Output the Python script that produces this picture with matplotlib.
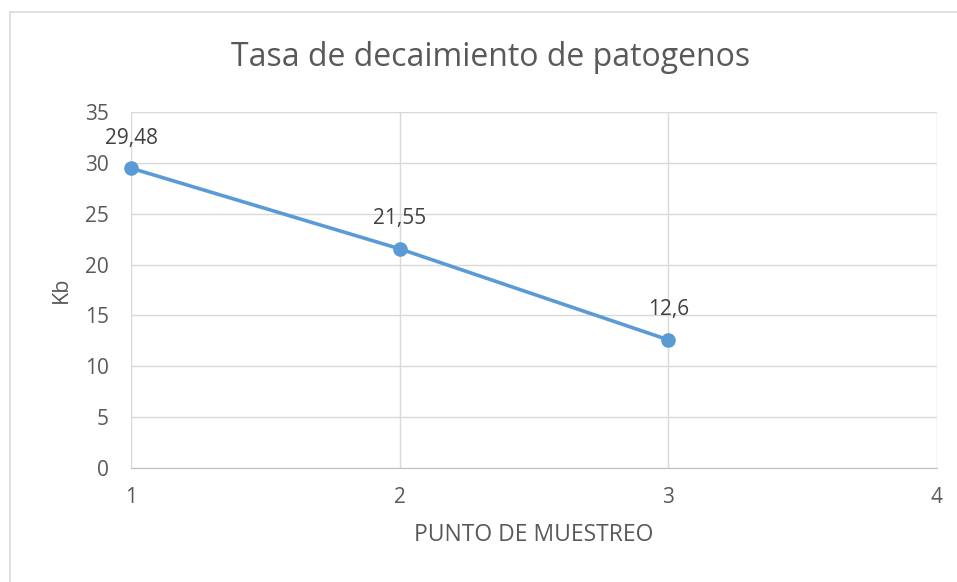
import matplotlib
matplotlib.use("Agg")
import matplotlib.pyplot as plt
from matplotlib.lines import Line2D

x_vals = [1, 2, 3]
kb_vals = [29.48, 21.55, 12.6]
point_labels = ["29,48", "21,55", "12,6"]
x_ticks = [1, 2, 3, 4]
y_ticks = [0, 5, 10, 15, 20, 25, 30, 35]

plt.rcParams['font.family'] = ['Open Sans', 'DejaVu Sans']

W, H = 957, 582
fig = plt.figure(figsize=(W/100, H/100), dpi=100)
# chart border (top and left visible)
fig.lines.append(Line2D([9.5/W, 1.0], [1-11.5/H, 1-11.5/H], transform=fig.transFigure,
                        color='#D9D9D9', linewidth=1.2))
fig.lines.append(Line2D([9.5/W, 9.5/W], [0.0, 1-11.5/H], transform=fig.transFigure,
                        color='#D9D9D9', linewidth=1.2))

left, right, top, bottom = 131, 937, 112, 468
ax = fig.add_axes([left/W, 1-bottom/H, (right-left)/W, (bottom-top)/H])

ax.plot(x_vals, kb_vals, color='#5B9BD5', linewidth=2.6, marker='o', markersize=9.5,
        zorder=3, clip_on=False)
for xv, yv, lab in zip(x_vals, kb_vals, point_labels):
    ax.annotate(lab, (xv, yv), xytext=(0, 14), textcoords='offset points',
                ha='center', va='bottom', fontsize=15, color='#404040')

ax.set_xlim(1, 4)
ax.set_ylim(0, 35)
ax.set_xticks(x_ticks)
ax.set_yticks(y_ticks)
ax.grid(True, color='#D9D9D9', linewidth=1)
ax.set_axisbelow(True)
for s in ['top', 'right', 'left']:
    ax.spines[s].set_visible(False)
ax.spines['bottom'].set_color('#BFBFBF')
ax.tick_params(axis='y', length=0, labelsize=15, labelcolor='#595959', pad=16)
ax.tick_params(axis='x', length=0, labelsize=15, labelcolor='#595959', pad=14)

fig.text(534/W, 1-535/H, 'PUNTO DE MUESTREO', ha='center', va='center',
         fontsize=16.5, color='#595959')
fig.text(61/W, 1-290/H, 'Kb', ha='center', va='center', rotation=90,
         fontsize=15.5, color='#595959')
fig.text(491/W, 1-58/H, 'Tasa de decaimiento de patogenos', ha='center', va='center',
         fontsize=23, color='#595959')

fig.savefig('out.png', dpi=100)
